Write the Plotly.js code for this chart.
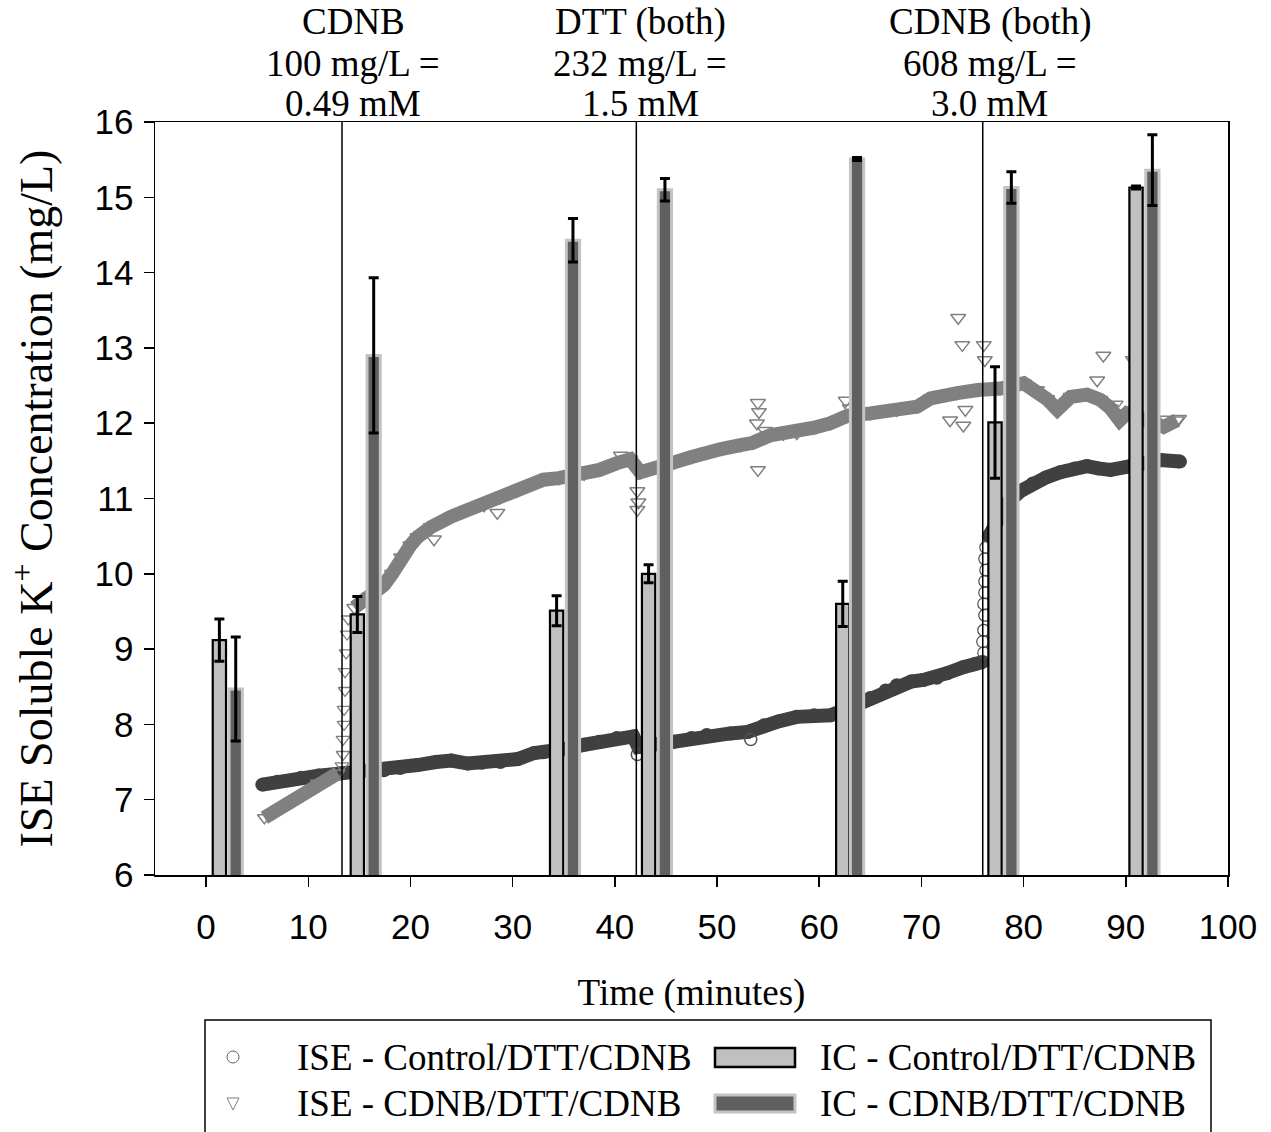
<!DOCTYPE html>
<html>
<head>
<meta charset="utf-8">
<script src="https://cdn.plot.ly/plotly-3.0.1.min.js"></script>
<style>
html,body{margin:0;padding:0;background:#fff;}
#chart{width:1271px;height:1132px;}
</style>
</head>
<body>
<div id="chart"></div>
<script>
// ---------- DATA ----------
// IC bars (time in minutes, K+ mg/L, error)
const icCtrlT = [1.3, 14.8, 34.3, 43.3, 62.3, 77.2, 91.0];
const icCtrlY = [9.12, 9.46, 9.51, 10.0, 9.6, 12.01, 15.13];
const icCtrlErr = [0.28, 0.24, 0.2, 0.12, 0.3, 0.74, 0.02];
const icCdnbT = [2.9, 16.4, 35.9, 44.9, 63.7, 78.8, 92.6];
const icCdnbY = [8.47, 12.9, 14.43, 15.1, 15.51, 15.13, 15.36];
const icCdnbErr = [0.69, 1.03, 0.29, 0.15, 0.02, 0.21, 0.47];

// ISE - Control/DTT/CDNB
const iseCtrlT = [5.5, 7.0, 9.3, 11.0, 13.2, 15.0, 17.4, 19.0, 20.7, 22.5, 24.0, 25.6, 27.0, 28.8, 30.5, 32.1, 33.0, 34.0, 35.5, 37.0, 38.5, 40.2, 41.8, 42.3, 44.0, 45.8, 47.5, 49.0, 51.3, 53.0, 54.6, 56.0, 57.8, 59.5, 61.1, 63.0, 65.0, 66.5, 67.6, 69.0, 70.2, 71.5, 72.5, 74.1, 75.2, 76.0];
const iseCtrlY = [7.20, 7.24, 7.29, 7.32, 7.35, 7.37, 7.39, 7.42, 7.46, 7.50, 7.52, 7.48, 7.49, 7.50, 7.54, 7.62, 7.63, 7.65, 7.68, 7.73, 7.77, 7.82, 7.84, 7.70, 7.74, 7.77, 7.82, 7.86, 7.88, 7.90, 7.99, 8.04, 8.10, 8.12, 8.12, 8.22, 8.35, 8.45, 8.52, 8.57, 8.59, 8.62, 8.68, 8.76, 8.80, 8.83];
const iseCtrlJumpT = [76.1, 76.0, 76.1, 76.2, 76.1, 76.2, 76.2, 76.3, 76.2, 76.3];
const iseCtrlJumpY = [8.95, 9.1, 9.25, 9.45, 9.6, 9.75, 9.9, 10.05, 10.2, 10.35];
const iseCtrlPostT = [76.6, 77.5, 78.5, 79.7, 80.9, 82.2, 83.6, 85.0, 86.2, 87.3, 88.5, 90.1, 91.5, 93.4, 95.3];
const iseCtrlPostY = [10.5, 10.75, 10.95, 11.1, 11.2, 11.28, 11.35, 11.40, 11.43, 11.40, 11.38, 11.42, 11.46, 11.51, 11.49];
const iseCtrlOutT = [42.2, 53.3];
const iseCtrlOutY = [7.6, 7.8];

// ISE - CDNB/DTT/CDNB
const iseCdnbPreT = [5.7, 7.0, 8.3, 9.6, 10.9, 12.0, 12.9];
const iseCdnbPreY = [6.76, 6.87, 6.97, 7.08, 7.22, 7.28, 7.35];
const iseCdnbJumpT = [13.3, 13.4, 13.4, 13.5, 13.5, 13.6, 13.6, 13.7, 13.8, 13.9];
const iseCdnbJumpY = [7.45, 7.6, 7.8, 8.0, 8.2, 8.45, 8.7, 8.95, 9.2, 9.4];
const iseCdnbPostT = [14.5, 16.0, 17.4, 18.2, 19.1, 20.0, 20.7, 22.0, 24.0, 25.5, 27.2, 28.8, 30.5, 32.0, 33.0, 34.5, 37.0, 38.5, 40.2, 41.5, 42.5, 43.5, 44.5, 45.8, 47.5, 49.0, 50.5, 52.3, 53.5, 55.2, 56.5, 57.8, 59.5, 61.1, 62.8, 65.0, 67.6, 69.6, 70.9, 72.0, 73.5, 75.5, 77.7, 80.0, 81.3, 82.3, 83.3, 84.6, 86.2, 87.5, 88.5, 89.4, 90.1, 91.5, 93.7, 95.0];
const iseCdnbPostY = [9.55, 9.7, 9.85, 10.0, 10.22, 10.38, 10.49, 10.62, 10.76, 10.85, 10.91, 11.02, 11.11, 11.2, 11.25, 11.27, 11.33, 11.38, 11.47, 11.52, 11.35, 11.40, 11.44, 11.48, 11.55, 11.62, 11.66, 11.71, 11.74, 11.84, 11.86, 11.87, 11.94, 12.0, 12.1, 12.13, 12.18, 12.22, 12.33, 12.37, 12.40, 12.44, 12.46, 12.53, 12.44, 12.32, 12.18, 12.35, 12.38, 12.31, 12.2, 12.04, 12.13, 12.05, 11.95, 12.04];
const iseCdnbOutT = [42.2, 42.3, 42.2, 40.6, 54.0, 54.1, 53.9, 54.0, 54.7, 22.3, 28.5, 62.6, 63.0, 72.8, 74.1, 73.6, 74.0, 76.1, 76.2, 74.3, 87.8, 87.2, 90.7, 89.0, 94.0, 95.2];
const iseCdnbOutY = [11.1, 10.95, 10.85, 11.57, 12.27, 12.15, 12.0, 11.38, 11.9, 10.46, 10.81, 12.3, 12.2, 12.04, 11.97, 13.40, 13.04, 13.04, 12.84, 12.18, 12.9, 12.57, 12.84, 12.25, 12.05, 12.06];

// Additions (vertical event lines) and their labels
const eventT = [13.3, 42.1, 76.0];
const labelT = [14.4, 42.5, 76.7];
const labelLines = [
  ["CDNB", "100 mg/L =", "0.49 mM"],
  ["DTT (both)", "232 mg/L =", "1.5 mM"],
  ["CDNB (both)", "608 mg/L =", "3.0 mM"]
];
const xTicks = [0, 10, 20, 30, 40, 50, 60, 70, 80, 90, 100];
const yTicks = [6, 7, 8, 9, 10, 11, 12, 13, 14, 15, 16];
const legendNames = ["ISE - Control/DTT/CDNB", "ISE - CDNB/DTT/CDNB", "IC - Control/DTT/CDNB", "IC - CDNB/DTT/CDNB"];

// ---------- STYLE ----------
const SERIF = "Liberation Serif, Times New Roman, serif";
const SANS = "Liberation Sans, Arial, sans-serif";
const CTRL_BAND = "#404040";
const CDNB_BAND = "#808080";
const W = 1271, H = 1132, ML = 155, MR = 43, MT = 122, MB = 257;
const PW = W - ML - MR, PH = H - MT - MB;
const px = v => (v - ML) / PW;
const py = v => (H - MB - v) / PH;

const traces = [];
// ISE control band
traces.push({x: iseCtrlT, y: iseCtrlY, type: 'scatter', mode: 'lines+markers',
  line: {color: CTRL_BAND, width: 14}, marker: {symbol: 'circle', size: 14, color: CTRL_BAND}, showlegend: false});
traces.push({x: iseCtrlPostT, y: iseCtrlPostY, type: 'scatter', mode: 'lines+markers',
  line: {color: CTRL_BAND, width: 14}, marker: {symbol: 'circle', size: 14, color: CTRL_BAND}, showlegend: false});
traces.push({x: iseCtrlJumpT, y: iseCtrlJumpY, type: 'scatter', mode: 'markers',
  marker: {symbol: 'circle-open', size: 12, color: '#505050', line: {width: 1.2}}, showlegend: false});
traces.push({x: iseCtrlOutT, y: iseCtrlOutY, type: 'scatter', mode: 'markers',
  marker: {symbol: 'circle-open', size: 12, color: '#505050', line: {width: 1.5}}, showlegend: false});
// ISE CDNB band
traces.push({x: iseCdnbPreT, y: iseCdnbPreY, type: 'scatter', mode: 'lines+markers',
  line: {color: CDNB_BAND, width: 14}, marker: {symbol: 'triangle-down-open', size: 12, color: CDNB_BAND, line: {width: 1.5}}, showlegend: false});
traces.push({x: iseCdnbPostT, y: iseCdnbPostY, type: 'scatter', mode: 'lines+markers',
  line: {color: CDNB_BAND, width: 14}, marker: {symbol: 'triangle-down-open', size: 13, color: CDNB_BAND, line: {width: 1.5}}, showlegend: false});
traces.push({x: iseCdnbJumpT, y: iseCdnbJumpY, type: 'scatter', mode: 'markers',
  marker: {symbol: 'triangle-down-open', size: 12, color: CDNB_BAND, line: {width: 1.3}}, showlegend: false});
traces.push({x: iseCdnbOutT, y: iseCdnbOutY, type: 'scatter', mode: 'markers',
  marker: {symbol: 'triangle-down-open', size: 13, color: CDNB_BAND, line: {width: 1.5}}, showlegend: false});
// IC bars on overlay axes (drawn above the ISE curves)
traces.push({x: icCtrlT, y: icCtrlY, type: 'bar', width: 1.3, xaxis: 'x2', yaxis: 'y2',
  marker: {color: '#c0c0c0', line: {color: '#000', width: 2.2}},
  error_y: {type: 'data', array: icCtrlErr, visible: true, color: '#000', thickness: 3, width: 5}, showlegend: false});
traces.push({x: icCdnbT, y: icCdnbY, type: 'bar', width: 1.3, xaxis: 'x2', yaxis: 'y2',
  marker: {color: '#606060', line: {color: '#c4c4c4', width: 3}},
  error_y: {type: 'data', array: icCdnbErr, visible: true, color: '#000', thickness: 3, width: 5}, showlegend: false});

const shapes = eventT.map(t => ({type: 'line', xref: 'x', yref: 'paper', x0: t, x1: t, y0: 0, y1: 1,
  line: {color: '#000', width: 1.5}, layer: 'above'}));

const annotations = [];
const lineYpx = [22, 63, 103];
labelLines.forEach((lines, i) => {
  lines.forEach((txt, j) => {
    annotations.push({text: txt, xref: 'x', yref: 'paper', x: labelT[i], y: py(lineYpx[j]),
      xanchor: 'center', yanchor: 'middle', showarrow: false,
      font: {family: SERIF, size: 37, color: '#000'}});
  });
});

// Legend (manual, bottom box)
shapes.push({type: 'rect', xref: 'paper', yref: 'paper', x0: px(205), x1: px(1211), y0: py(1020), y1: py(1150),
  line: {color: '#000', width: 1.5}, fillcolor: 'rgba(0,0,0,0)', layer: 'above'});
shapes.push({type: 'circle', xref: 'paper', yref: 'paper', x0: px(227), x1: px(239), y0: py(1051), y1: py(1063),
  line: {color: '#606060', width: 1}});
shapes.push({type: 'path', xref: 'paper', yref: 'paper',
  path: `M ${px(227)} ${py(1098)} L ${px(239)} ${py(1098)} L ${px(233)} ${py(1110)} Z`,
  line: {color: '#808080', width: 1}});
shapes.push({type: 'rect', xref: 'paper', yref: 'paper', x0: px(715), x1: px(795), y0: py(1048), y1: py(1067),
  fillcolor: '#c0c0c0', line: {color: '#000', width: 2.5}});
shapes.push({type: 'rect', xref: 'paper', yref: 'paper', x0: px(715), x1: px(795), y0: py(1095), y1: py(1112),
  fillcolor: '#606060', line: {color: '#c4c4c4', width: 3}});
const legPos = [[295, 1057], [295, 1103], [818, 1057], [818, 1103]];
legendNames.forEach((n, i) => {
  annotations.push({text: n, xref: 'paper', yref: 'paper', x: px(legPos[i][0]), y: py(legPos[i][1]),
    xanchor: 'left', yanchor: 'middle', showarrow: false, font: {family: SERIF, size: 37, color: '#000'}});
});

const axisCommon = {showline: true, linecolor: '#000', linewidth: 1.5, mirror: true, ticks: 'outside',
  ticklen: 10, tickwidth: 1.5, tickcolor: '#000', showgrid: false, zeroline: false,
  tickfont: {family: SANS, size: 35, color: '#000'}};

const layout = {
  width: W, height: H,
  margin: {l: ML, r: MR, t: MT, b: MB, pad: 0},
  paper_bgcolor: '#fff', plot_bgcolor: '#fff',
  showlegend: false,
  barmode: 'overlay',
  xaxis: Object.assign({}, axisCommon, {range: [-5, 100], tickvals: xTicks, ticktext: xTicks.map(String),
    ticklabelstandoff: 10,
    title: {text: 'Time (minutes)', font: {family: SERIF, size: 37, color: '#000'}, standoff: 34}, automargin: false}),
  yaxis: Object.assign({}, axisCommon, {range: [6, 16], tickvals: yTicks, ticktext: yTicks.map(String),
    ticklabelstandoff: 3,
    title: {text: 'ISE Soluble K<sup>+</sup> Concentration (mg/L)', font: {family: SERIF, size: 46, color: '#000'}, standoff: 27}, automargin: false}),
  xaxis2: {overlaying: 'x', anchor: 'y2', range: [-5, 100], visible: false, showgrid: false, zeroline: false},
  yaxis2: {overlaying: 'y', anchor: 'x2', range: [6, 16], visible: false, showgrid: false, zeroline: false},
  shapes: shapes,
  annotations: annotations
};

Plotly.newPlot('chart', traces, layout, {displayModeBar: false, staticPlot: true});
</script>
</body>
</html>
